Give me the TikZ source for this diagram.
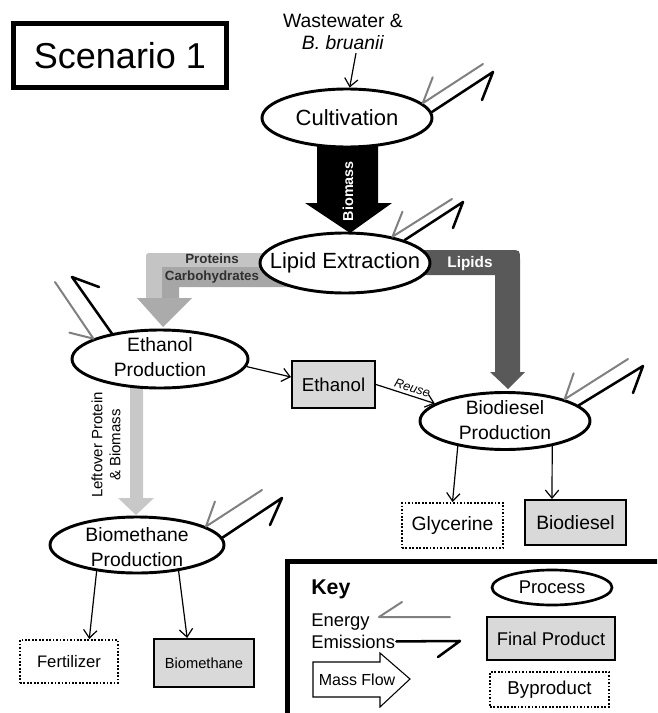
\documentclass[tikz,border=0pt]{standalone}
\usepackage{fontspec}
\setmainfont{Liberation Sans}
\usetikzlibrary{shapes.geometric,arrows.meta,calc}
\definecolor{boxg}{HTML}{D9D9D9}
\definecolor{engray}{HTML}{808080}
\definecolor{lipidc}{HTML}{595959}
\definecolor{protc}{HTML}{C4C4C4}
\definecolor{carbc}{HTML}{A6A6A6}
\definecolor{headc}{HTML}{ABABAB}
\definecolor{leftc}{HTML}{C8C8C8}
\definecolor{txtd}{HTML}{303030}
\newcommand\fpt[2]{\fontsize{#1}{#2}\selectfont}
\begin{document}
\begin{tikzpicture}[x=0.75pt,y=-0.75pt,
  proc/.style={ellipse, draw, line width=2.2pt, fill=white, inner sep=0pt},
  ptxt/.style={align=center, font=\fpt{14.5}{18.75}, inner sep=0pt},
  fbox/.style={draw, line width=1.5pt, fill=boxg, inner sep=0pt},
  bybox/.style={draw, line width=1.5pt, dash pattern=on 1.3pt off 1.3pt, fill=white, inner sep=0pt},
  arr/.style={draw, line width=0.9pt, -{Straight Barb[length=6pt,width=10pt]}},
  enl/.style={draw=engray, line width=1.5pt, line join=round, line cap=round},
  eml/.style={draw=black, line width=1.9pt, line join=round, line cap=round}]
\useasboundingbox (0,0) rectangle (657,713);

% title
\node[draw, line width=3.75pt, minimum width=213*0.75pt, minimum height=64*0.75pt, inner sep=0pt, font=\fpt{27}{30}] (scen) at (120,55.5) {Scenario 1};

% input text
\node[align=center, font=\fpt{14.5}{16.5}, inner sep=0pt] (ww) at (343,32) {Wastewater \&\\\textit{B. bruanii}};

% mass flows (block arrows)
\fill[black] (317,140) -- (378,140) -- (378,203) -- (392,203) -- (350,233) -- (305,203) -- (317,203) -- cycle;
\node[rotate=90, text=white, font=\bfseries\fpt{10.8}{12}] (bmlab) at (348,191) {Biomass};

\fill[lipidc] (420,250) -- (510,250) .. controls (520,250) .. (520,260) -- (520,372) -- (525,372) -- (508,389) -- (490,372) -- (495,372) -- (495,275) -- (420,275) -- cycle;
\node[text=white, font=\bfseries\fpt{11.5}{13}] (liplab) at (470,264) {Lipids};

\fill[protc] (300,253) -- (152,253) .. controls (146,253) .. (146,259) -- (146,298) -- (162,298) -- (162,267) -- (300,267) -- cycle;
\fill[carbc] (300,267) -- (162,267) -- (162,298) -- (179,298) -- (179,287) -- (300,287) -- cycle;
\fill[headc] (137,298) -- (192,298) -- (163,327) -- cycle;
\node[text=txtd, font=\bfseries\fpt{10}{12}] (protlab) at (212,259) {Proteins};
\node[text=txtd, font=\bfseries\fpt{10}{12}] (carblab) at (212,277) {Carbohydrates};

\fill[leftc] (130,385) -- (143,385) -- (143,498) -- (154,498) -- (136,515) -- (118,498) -- (130,498) -- cycle;
\node[rotate=90, align=center, font=\fpt{11.25}{13.5}] (lolab) at (106,445) {Leftover Protein\\\& Biomass};

% processes
\node[proc, minimum width=170*0.75pt, minimum height=58*0.75pt, font=\fpt{16.5}{18}] (cult) at (347,118) {Cultivation};
\node[proc, minimum width=170*0.75pt, minimum height=60*0.75pt] (lip) at (345,263) {};
\node[font=\fpt{16.5}{18}, inner sep=0pt] (lipT) at (345,263) {Lipid Extraction};
\node[proc, minimum width=176*0.75pt, minimum height=58*0.75pt] (eth) at (160,359) {};
\node[ptxt] (ethT) at (160,357.5) {Ethanol\\Production};
\node[proc, minimum width=170*0.75pt, minimum height=57*0.75pt] (bdp) at (505,421) {};
\node[ptxt] (bdpT) at (505,420) {Biodiesel\\Production};
\node[proc, minimum width=174*0.75pt, minimum height=56*0.75pt] (bmp) at (137,545) {};
\node[ptxt] (bmpT) at (137,547) {Biomethane\\Production};

% products
\node[fbox, minimum width=83*0.75pt, minimum height=47*0.75pt, font=\fpt{14}{15}] (etb) at (333.5,384.5) {Ethanol};
\node[bybox, minimum width=101*0.75pt, minimum height=45*0.75pt, font=\fpt{14.5}{16}] (gly) at (452.5,525.5) {Glycerine};
\node[fbox, minimum width=101*0.75pt, minimum height=45*0.75pt, font=\fpt{14.5}{16}] (bdb) at (575.5,522.5) {Biodiesel};
\node[bybox, minimum width=98*0.75pt, minimum height=43*0.75pt, font=\fpt{12.5}{14}] (fert) at (69,661.5) {Fertilizer};
\node[fbox, minimum width=100*0.75pt, minimum height=48*0.75pt, font=\fpt{11}{13}] (bmb) at (204,663) {Biomethane};

% thin arrows
\draw[arr] ($(ww.south)+(13,3)$) -- (cult.85);
\draw[arr] (eth.-5) -- (etb.170);
\draw[arr] (etb.east) -- node[sloped, above, pos=0.58, font=\itshape\fpt{9.5}{11}, inner sep=0.5pt, yshift=1.5pt] (reuse) {Reuse} (bdp.166);
\draw[arr] (bdp.208) -- (gly.north);
\draw[arr] (bdp.-28) -- (bdb.135);
\draw[arr] (bmp.-147) -- (fert.48);
\draw[arr] (bmp.-32) -- (bmb.124);

% energy and emissions
\coordinate (cultEn) at (483,64);
\coordinate (cultEm) at (493,72);
\draw[enl] (cultEn) -- (cult.11) -- ++(10,-26);
\draw[eml] (cult.4) -- (cultEm) -- ++(-11,28);

\coordinate (lipEn) at (452,199);
\coordinate (lipEm) at (463,202);
\draw[enl] (lipEn) -- (lip.29) -- ++(10,-25);
\draw[eml] (lip.21) -- (lipEm) -- ++(-10,26);

\coordinate (ethEn) at (55,282);
\coordinate (ethEm) at (72,277);
\draw[enl] (ethEn) -- (eth.163) -- ++(-24,-6);
\draw[eml] (eth.152) -- (ethEm) -- ++(27,10);

\coordinate (bdpEn) at (628,359);
\coordinate (bdpEm) at (643,366);
\draw[enl] (bdpEn) -- (bdp.20) -- ++(9,-26);
\draw[eml] (bdp.12) -- (bdpEm) -- ++(-10,27);

\coordinate (bmpEn) at (262,490);
\coordinate (bmpEm) at (282,498);
\draw[enl] (bmpEn) -- (bmp.15) -- ++(9,-25);
\draw[eml] (bmp.5) -- (bmpEm) -- ++(-12,27);

% key
\begin{scope}
\clip (0,0) rectangle (657,713);
\draw[line width=4pt] (287.5,561.5) rectangle (672,728);
\end{scope}
\node[anchor=base west, font=\bfseries\fpt{16}{18}, inner sep=0pt] (keyT) at (311,594) {Key};
\node[anchor=base west, font=\fpt{13.8}{15}, inner sep=0pt] (enT) at (311,626) {Energy};
\node[anchor=base west, font=\fpt{13.8}{15}, inner sep=0pt] (emT) at (311,648) {Emissions};
\coordinate (kEnA) at (450,617);
\coordinate (kEnT) at (379,617);
\draw[enl] (kEnA) -- (kEnT) -- ++(23,-15);
\coordinate (kEmT) at (460,641);
\draw[eml] ($(emT.east)+(1,0)$) -- (kEmT) -- ++(-22,16);
\node[proc, line width=2pt, minimum width=120*0.75pt, minimum height=35*0.75pt, font=\fpt{13.8}{15}] (kproc) at (552,587.5) {Process};
\node[fbox, minimum width=128*0.75pt, minimum height=43*0.75pt, font=\fpt{13.8}{15}] (kfin) at (551,638.5) {Final Product};
\node[bybox, minimum width=119*0.75pt, minimum height=35*0.75pt, font=\fpt{14}{15}] (kby) at (549.5,689.5) {Byproduct};
\draw[line width=0.8pt, fill=white] (313,662) -- (380,662) -- (380,653) -- (410,679) -- (380,707) -- (380,697) -- (313,697) -- cycle;
\node[font=\fpt{12}{14}] (kmf) at (357,680) {Mass Flow};
\end{tikzpicture}
\end{document}
